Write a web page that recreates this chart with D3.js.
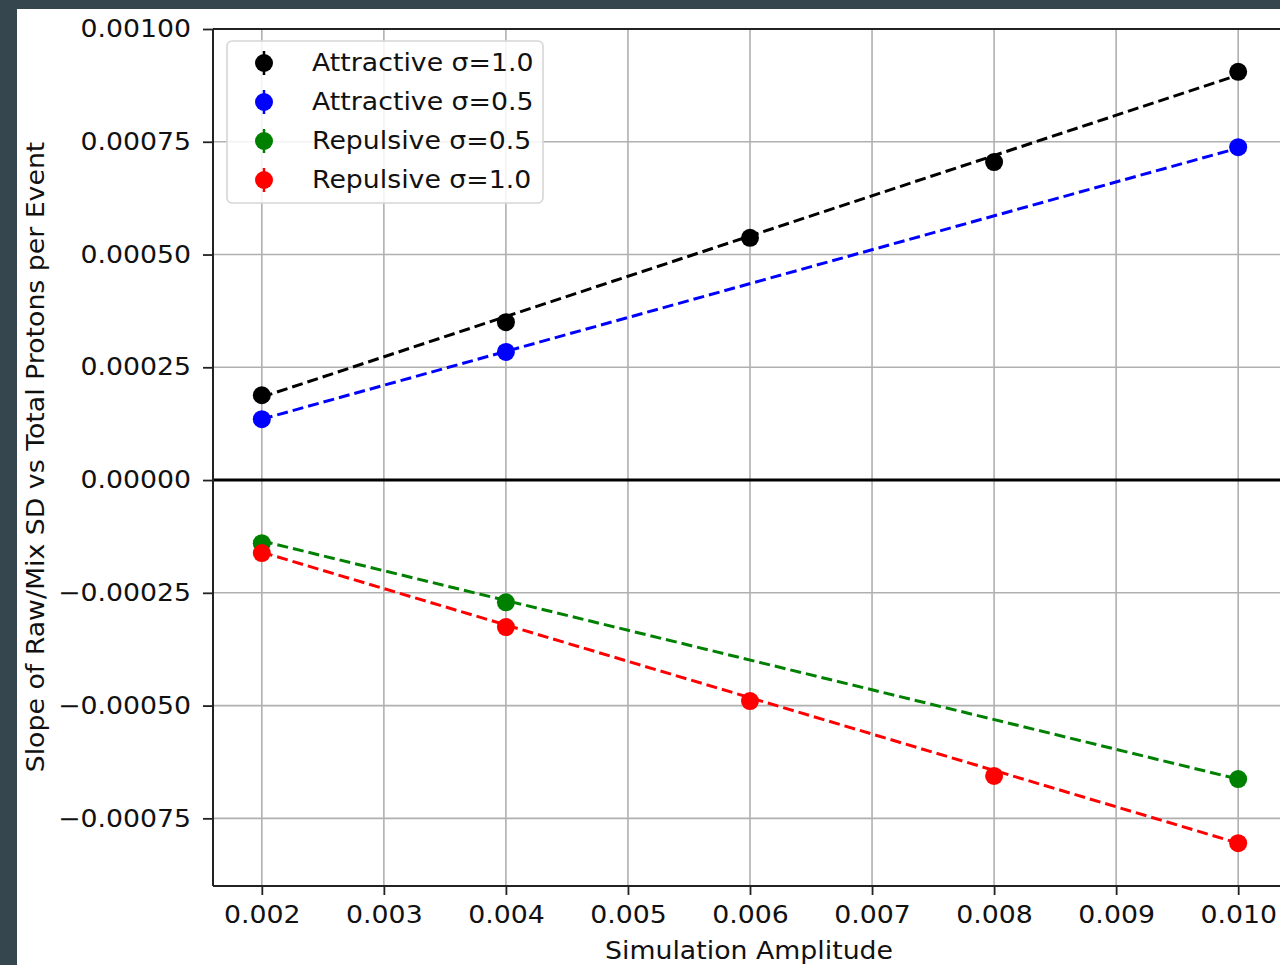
<!DOCTYPE html>
<html>
<head>
<meta charset="utf-8">
<script src="https://cdn.jsdelivr.net/npm/d3@7"></script>
<style>
  html, body { margin: 0; padding: 0; background: #36464f; }
  svg { display: block; }
  text { font-family: "DejaVu Sans", sans-serif; fill: #111; }
</style>
</head>
<body>
<svg id="chart" width="1280" height="965"></svg>
<script>
// Simulation amplitudes (x) and measured slopes per series
const amplitudes = [0.002, 0.004, 0.006, 0.008, 0.010];

const seriesNames = ["Attractive σ=1.0", "Attractive σ=0.5", "Repulsive σ=0.5", "Repulsive σ=1.0"];
const seriesColors = ["#000000", "#0000ff", "#008000", "#ff0000"];

// Slope values, null where no point was measured
const attractive10 = [0.000188, 0.000350, 0.000537, 0.000705, 0.000905];
const attractive05 = [0.000135, 0.000284, null, null, 0.000738];
const repulsive05  = [-0.000140, -0.000271, null, null, -0.000663];
const repulsive10  = [-0.000162, -0.000326, -0.000490, -0.000656, -0.000805];

// Linear fit lines: value at first and last amplitude
const fitX = [0.002, 0.010];
const fitAttractive10 = [0.000184, 0.000898];
const fitAttractive05 = [0.000135, 0.000736];
const fitRepulsive05  = [-0.000135, -0.000663];
const fitRepulsive10  = [-0.000160, -0.000805];

const xTicks = [0.002, 0.003, 0.004, 0.005, 0.006, 0.007, 0.008, 0.009, 0.010];
const yTicks = [-0.00075, -0.0005, -0.00025, 0, 0.00025, 0.0005, 0.00075, 0.001];

const seriesValues = [attractive10, attractive05, repulsive05, repulsive10];
const seriesFits = [fitAttractive10, fitAttractive05, fitRepulsive05, fitRepulsive10];

// Text is drawn slightly widened horizontally
const SX = 1.115;
const FS = 24;

const svg = d3.select("#chart");

// White figure area
svg.append("rect").attr("x", 17).attr("y", 9).attr("width", 1263).attr("height", 956).attr("fill", "#ffffff");

const plot = { left: 213, top: 29, right: 1287, bottom: 886 };

const x = d3.scaleLinear().domain([0.0016, 0.0104]).range([plot.left, plot.right]);
const y = d3.scaleLinear().domain([-0.0009, 0.001]).range([plot.bottom, plot.top]);

const fmtY = v => {
  const s = d3.format(".5f")(Math.abs(v));
  return (v < 0 ? "\u2212" : "") + s;
};

// Grid
const grid = svg.append("g");
grid.selectAll("line.gx").data(xTicks).join("line")
  .attr("x1", d => x(d)).attr("x2", d => x(d))
  .attr("y1", plot.top).attr("y2", plot.bottom)
  .attr("stroke", "#b0b0b0").attr("stroke-width", 1.6);
grid.selectAll("line.gy").data(yTicks).join("line")
  .attr("x1", plot.left).attr("x2", plot.right)
  .attr("y1", d => y(d)).attr("y2", d => y(d))
  .attr("stroke", "#b0b0b0").attr("stroke-width", 1.6);

// Zero reference line
svg.append("line")
  .attr("x1", plot.left).attr("x2", plot.right)
  .attr("y1", y(0)).attr("y2", y(0))
  .attr("stroke", "#000").attr("stroke-width", 3);

// Axes
const xAxis = d3.axisBottom(x).tickValues(xTicks).tickFormat(d3.format(".3f")).tickSize(9).tickPadding(11);
const yAxis = d3.axisLeft(y).tickValues(yTicks).tickFormat(fmtY).tickSize(10);

const gx = svg.append("g").attr("transform", `translate(0,${plot.bottom})`).call(xAxis);
const gy = svg.append("g").attr("transform", `translate(${plot.left},0)`).call(yAxis);
[gx, gy].forEach(g => {
  g.select(".domain").remove();
  g.selectAll(".tick line").attr("stroke", "#222").attr("stroke-width", 1.8);
  g.selectAll(".tick text").attr("font-size", FS).attr("fill", "#111")
    .style("font-family", "DejaVu Sans, sans-serif")
    .attr("transform", `scale(${SX},1)`);
});
gy.selectAll(".tick text").attr("x", -22 / SX);

// Spines
svg.append("line").attr("x1", plot.left).attr("x2", plot.left).attr("y1", plot.top).attr("y2", plot.bottom)
  .attr("stroke", "#222").attr("stroke-width", 2);
svg.append("line").attr("x1", plot.left).attr("x2", plot.right).attr("y1", plot.bottom).attr("y2", plot.bottom)
  .attr("stroke", "#222").attr("stroke-width", 2);
svg.append("line").attr("x1", plot.left).attr("x2", plot.right).attr("y1", plot.top).attr("y2", plot.top)
  .attr("stroke", "#222").attr("stroke-width", 2);

// Fit lines
const line = d3.line().x(d => x(d[0])).y(d => y(d[1]));
seriesFits.forEach((fit, i) => {
  svg.append("path")
    .attr("d", line(fitX.map((xv, k) => [xv, fit[k]])))
    .attr("fill", "none").attr("stroke", seriesColors[i])
    .attr("stroke-width", 3).attr("stroke-dasharray", "11,5");
});

// Data points
seriesValues.forEach((vals, i) => {
  const pts = amplitudes.map((a, k) => [a, vals[k]]).filter(d => d[1] !== null);
  svg.append("g").selectAll("circle").data(pts).join("circle")
    .attr("cx", d => x(d[0])).attr("cy", d => y(d[1])).attr("r", 9)
    .attr("fill", seriesColors[i]);
});

// Legend
const lg = svg.append("g");
lg.append("rect").attr("x", 227).attr("y", 41).attr("width", 316).attr("height", 162).attr("rx", 5)
  .attr("fill", "rgba(255,255,255,0.85)").attr("stroke", "#d6d6d6").attr("stroke-width", 1.6);
seriesNames.forEach((name, i) => {
  const cy = 63 + i * 39;
  lg.append("line").attr("x1", 264).attr("x2", 264).attr("y1", cy - 12).attr("y2", cy + 12)
    .attr("stroke", seriesColors[i]).attr("stroke-width", 2.5);
  lg.append("circle").attr("cx", 264).attr("cy", cy).attr("r", 9).attr("fill", seriesColors[i]);
  lg.append("text").attr("transform", `translate(312,${cy}) scale(${SX},1)`).attr("dy", "0.35em")
    .attr("font-size", FS).text(name);
});

// Axis titles
svg.append("text").attr("transform", `translate(749,959) scale(${SX},1)`)
  .attr("text-anchor", "middle").attr("font-size", FS).text("Simulation Amplitude");
svg.append("text").attr("transform", `translate(44,457) rotate(-90) scale(${SX},1)`)
  .attr("text-anchor", "middle").attr("font-size", FS)
  .text("Slope of Raw/Mix SD vs Total Protons per Event");
</script>
</body>
</html>
